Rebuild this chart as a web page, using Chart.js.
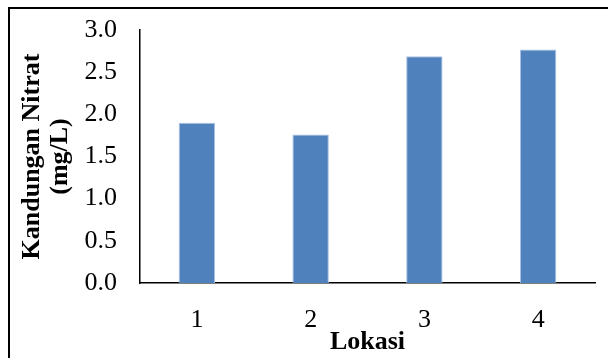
<!DOCTYPE html>
<html>
<head>
<meta charset="utf-8">
<script src="https://cdn.jsdelivr.net/npm/chart.js@4.4.1/dist/chart.umd.min.js"></script>
<style>
  body { margin: 0; background: #fff; }
  #wrap { position: relative; width: 608px; height: 358px; overflow: hidden; }
  #frame { position: absolute; left: 8px; top: 7px; width: 700px; height: 500px; border-top: 2px solid #000; border-left: 2px solid #000; pointer-events: none; }
</style>
</head>
<body>
<div id="wrap">
  <canvas id="myChart" width="608" height="358"></canvas>
  <div id="frame"></div>
</div>
<script>
// data
const lokasi = ['1', '2', '3', '4'];
const nitrat = [1.9, 1.76, 2.69, 2.77];
const yTicks = [0, 0.5, 1.0, 1.5, 2.0, 2.5, 3.0];

const serif = "'Liberation Serif', 'Times New Roman', serif";

const myChart = document.getElementById('myChart');

let barChart = new Chart(myChart, {
  type: 'bar',
  data: {
    labels: lokasi,
    datasets: [{
      data: nitrat,
      backgroundColor: '#4F81BD',
      borderColor: '#A9C2E0',
      borderWidth: { left: 1, right: 1, top: 1, bottom: 0 },
      categoryPercentage: 1,
      barPercentage: 0.32
    }]
  },
  options: {
    responsive: false,
    animation: false,
    layout: { padding: { left: 0, top: 30, right: 13, bottom: 0 } },
    plugins: { legend: { display: false }, tooltip: { enabled: false } },
    scales: {
      x: {
        grid: { display: false, drawTicks: false },
        border: { color: '#000', width: 1.5 },
        ticks: { color: '#000', padding: 22, font: { family: serif, size: 26 } },
        title: { display: true, text: 'Lokasi', color: '#000', padding: { top: 0, bottom: 0 }, font: { family: serif, size: 26, weight: 'bold' } },
        afterFit: (scale) => { scale.height = 75; }
      },
      y: {
        min: 0,
        max: 3,
        afterBuildTicks: (scale) => { scale.ticks = yTicks.map(v => ({ value: v })); },
        grid: { display: false, drawTicks: false },
        border: { color: '#000', width: 1.5 },
        ticks: { color: '#000', padding: 23, font: { family: serif, size: 26 }, callback: (v) => Number(v).toFixed(1) },
        title: { display: true, text: ['Kandungan Nitrat', '(mg/L)'], color: '#000', padding: { top: 19, bottom: 0 }, font: { family: serif, size: 26, weight: 'bold', lineHeight: 1.05 } },
        // tick padding would otherwise push the plot top down
        afterFit: (scale) => { scale.width = 140; scale.paddingTop = 15; scale.paddingBottom = 15; }
      }
    }
  }
});
</script>
</body>
</html>
